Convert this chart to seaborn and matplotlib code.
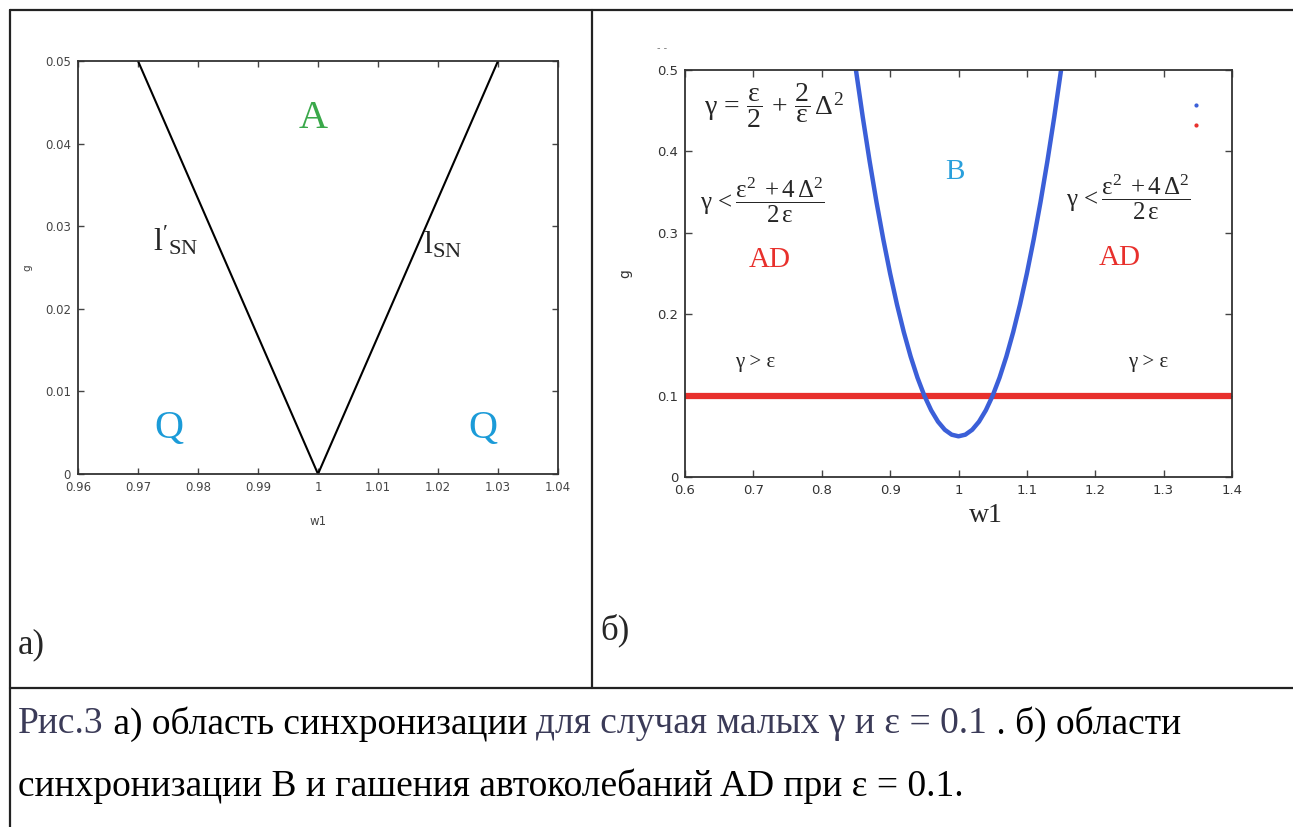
import numpy as np
import pandas as pd
import matplotlib
matplotlib.use("Agg")
import matplotlib.pyplot as plt
from matplotlib.lines import Line2D
import seaborn as sns

# --- data ---
# panel a): two saddle-node lines forming a V
a_left_w = [0.97, 1.0]
a_left_g = [0.05, 0.0]
a_right_w = [1.0, 1.03]
a_right_g = [0.0, 0.05]
a_xticks = [0.96, 0.97, 0.98, 0.99, 1.0, 1.01, 1.02, 1.03, 1.04]
a_xlabels = ["0.96", "0.97", "0.98", "0.99", "1", "1.01", "1.02", "1.03", "1.04"]
a_yticks = [0, 0.01, 0.02, 0.03, 0.04, 0.05]
a_ylabels = ["0", "0.01", "0.02", "0.03", "0.04", "0.05"]

# panel б): synchronization boundary (blue) and gamma = eps line (red)
b_curve_w = [0.85, 0.86, 0.87, 0.88, 0.89, 0.90, 0.91, 0.92, 0.93, 0.94, 0.95,
             0.96, 0.97, 0.98, 0.99, 1.00, 1.01, 1.02, 1.03, 1.04, 1.05, 1.06,
             1.07, 1.08, 1.09, 1.10, 1.11, 1.12, 1.13, 1.14, 1.15]
b_curve_g = [0.500, 0.442, 0.388, 0.338, 0.292, 0.250, 0.212, 0.178, 0.148,
             0.122, 0.100, 0.082, 0.068, 0.058, 0.052, 0.050, 0.052, 0.058,
             0.068, 0.082, 0.100, 0.122, 0.148, 0.178, 0.212, 0.250, 0.292,
             0.338, 0.388, 0.442, 0.500]
b_line_w = [0.6, 1.4]
b_line_g = [0.1, 0.1]
b_xticks = [0.6, 0.7, 0.8, 0.9, 1.0, 1.1, 1.2, 1.3, 1.4]
b_xlabels = ["0.6", "0.7", "0.8", "0.9", "1", "1.1", "1.2", "1.3", "1.4"]
b_yticks = [0, 0.1, 0.2, 0.3, 0.4, 0.5]
b_ylabels = ["0", "0.1", "0.2", "0.3", "0.4", "0.5"]

caption_line1 = [("Рис.3", "#3b3b58"),
                 (" а) область синхронизации ", "black"),
                 ("для случая малых γ и ε = 0.1", "#3b3b58"),
                 (" . б) области", "black")]
caption_line2 = "синхронизации В и гашения автоколебаний AD при ε = 0.1."

sns.set_theme(style="ticks")
plt.rcParams['font.family'] = ['DejaVu Sans']
# upright Times-like math, as in the original figure
plt.rcParams['mathtext.fontset'] = 'custom'
plt.rcParams['mathtext.rm'] = 'Liberation Serif'
plt.rcParams['mathtext.it'] = 'Liberation Serif:italic'
plt.rcParams['mathtext.bf'] = 'Liberation Serif:bold'
plt.rcParams['mathtext.default'] = 'rm'

fig = plt.figure(figsize=(12.93, 8.27), dpi=100)
W, H = 1293, 827

def fx(px):
    return px / W

def fy(py):
    return 1 - py / H

# table borders
for xs, ys in [([10, W], [10, 10]), ([10, 10], [10, H]),
               ([592, 592], [10, 688]), ([10, W], [688, 688])]:
    fig.add_artist(Line2D([fx(v) for v in xs], [fy(v) for v in ys],
                          color="#222222", lw=1.6))

serif = "Liberation Serif"

# ---------------- panel a ----------------
ax1 = fig.add_axes([fx(78), fy(474), fx(558) - fx(78), fy(61) - fy(474)])
sns.lineplot(x=a_left_w, y=a_left_g, ax=ax1, color="black", lw=1.5)
sns.lineplot(x=a_right_w, y=a_right_g, ax=ax1, color="black", lw=1.5)
ax1.set_xlim(0.96, 1.04)
ax1.set_ylim(0, 0.05)
ax1.set_xticks(a_xticks)
ax1.set_xticklabels(a_xlabels)
ax1.set_yticks(a_yticks)
ax1.set_yticklabels(a_ylabels)
ax1.tick_params(direction="in", top=True, right=True, length=4, width=1,
                labelsize=8.5, labelcolor="#444444", color="#444444", pad=5)
for s in ax1.spines.values():
    s.set_color("#333333")
    s.set_linewidth(1.3)
ax1.set_xlabel("w1", fontsize=8.5, color="#444444")
ax1.xaxis.set_label_coords(0.5, -0.1)
ax1.set_ylabel("g", fontsize=7.5, color="#444444")
ax1.yaxis.set_label_coords(-0.095, 0.5)

ax1.text(0.9992, 0.0430, "A", color="#3aa84a", fontsize=29, family=serif,
         ha="center", va="center")
ax1.text(0.9752, 0.0055, "Q", color="#1b9bd8", fontsize=29, family=serif,
         ha="center", va="center")
ax1.text(1.0275, 0.0055, "Q", color="#1b9bd8", fontsize=29, family=serif,
         ha="center", va="center")
ax1.text(0.9762, 0.0283, r"$\mathrm{l'}_{\mathrm{SN}}$", fontsize=23,
         ha="center", va="center")
ax1.text(1.0208, 0.0277, r"$\mathrm{l}_{\mathrm{SN}}$", fontsize=23,
         ha="center", va="center")

fig.text(fx(18), fy(645), "a)", fontsize=25, family=serif, va="center")

# ---------------- panel б ----------------
ax2 = fig.add_axes([fx(685), fy(477), fx(1232) - fx(685), fy(70) - fy(477)])
sns.lineplot(x=b_line_w, y=b_line_g, ax=ax2, color="#e8302c", lw=4.5)
sns.lineplot(x=b_curve_w, y=b_curve_g, ax=ax2, color="#3b5fd8", lw=3.2)
ax2.set_xlim(0.6, 1.4)
ax2.set_ylim(0, 0.5)
ax2.set_xticks(b_xticks)
ax2.set_xticklabels(b_xlabels)
ax2.set_yticks(b_yticks)
ax2.set_yticklabels(b_ylabels)
ax2.tick_params(direction="in", top=True, right=True, length=5, width=1,
                labelsize=9.5, labelcolor="#333333", color="#444444", pad=5)
for s in ax2.spines.values():
    s.set_color("#333333")
    s.set_linewidth(1.3)
ax2.set_xlabel("w1", fontsize=20, family=serif)
ax2.xaxis.set_label_coords(0.55, -0.065)
ax2.set_ylabel("g", fontsize=10, color="#333333", labelpad=18)

ax2.text(0.628, 0.456,
         r"$\gamma\,=\,\dfrac{\varepsilon}{2}\,+\,\dfrac{2}{\varepsilon}\,\Delta^{2}$",
         fontsize=20, ha="left", va="center")
ax2.text(0.622, 0.340,
         r"$\gamma\,<\dfrac{\varepsilon^{2}\;+4\,\Delta^{2}}{2\,\varepsilon}$",
         fontsize=18, ha="left", va="center")
ax2.text(1.157, 0.344,
         r"$\gamma\,<\dfrac{\varepsilon^{2}\;+4\,\Delta^{2}}{2\,\varepsilon}$",
         fontsize=18, ha="left", va="center")
ax2.text(0.995, 0.375, "B", color="#2aa0dc", fontsize=21, family=serif,
         ha="center", va="center")
ax2.text(0.724, 0.267, "AD", color="#e8302c", fontsize=21, family=serif,
         ha="center", va="center")
ax2.text(1.236, 0.269, "AD", color="#e8302c", fontsize=21, family=serif,
         ha="center", va="center")
ax2.text(0.702, 0.141, "γ > ε", fontsize=15, family=serif,
         ha="center", va="center")
ax2.text(1.277, 0.141, "γ > ε", fontsize=15, family=serif,
         ha="center", va="center")

# empty legend markers at top right
handles = [Line2D([], [], ls="none", marker=".", ms=4, color="#3b5fd8"),
           Line2D([], [], ls="none", marker=".", ms=4, color="#e8302c")]
ax2.legend(handles, ["", ""], loc="upper right", frameon=False,
           bbox_to_anchor=(0.955, 0.95), handlelength=0.5,
           handletextpad=0.0, labelspacing=0.35, borderpad=0)

fig.text(fx(657), fy(48), "- -", fontsize=7, color="#777777", va="center")
fig.text(fx(600), fy(630), "б)", fontsize=25, family=serif, va="center")

# ---------------- caption ----------------
fig.canvas.draw()
renderer = fig.canvas.get_renderer()
xpos = fx(18)
for txt, col in caption_line1:
    t = fig.text(xpos, fy(724), txt, fontsize=27, family=serif, color=col,
                 va="center")
    bb = t.get_window_extent(renderer=renderer)
    xpos += bb.width / W
fig.text(fx(18), fy(786), caption_line2, fontsize=27, family=serif,
         color="black", va="center")

fig.savefig("out.png", dpi=100)
